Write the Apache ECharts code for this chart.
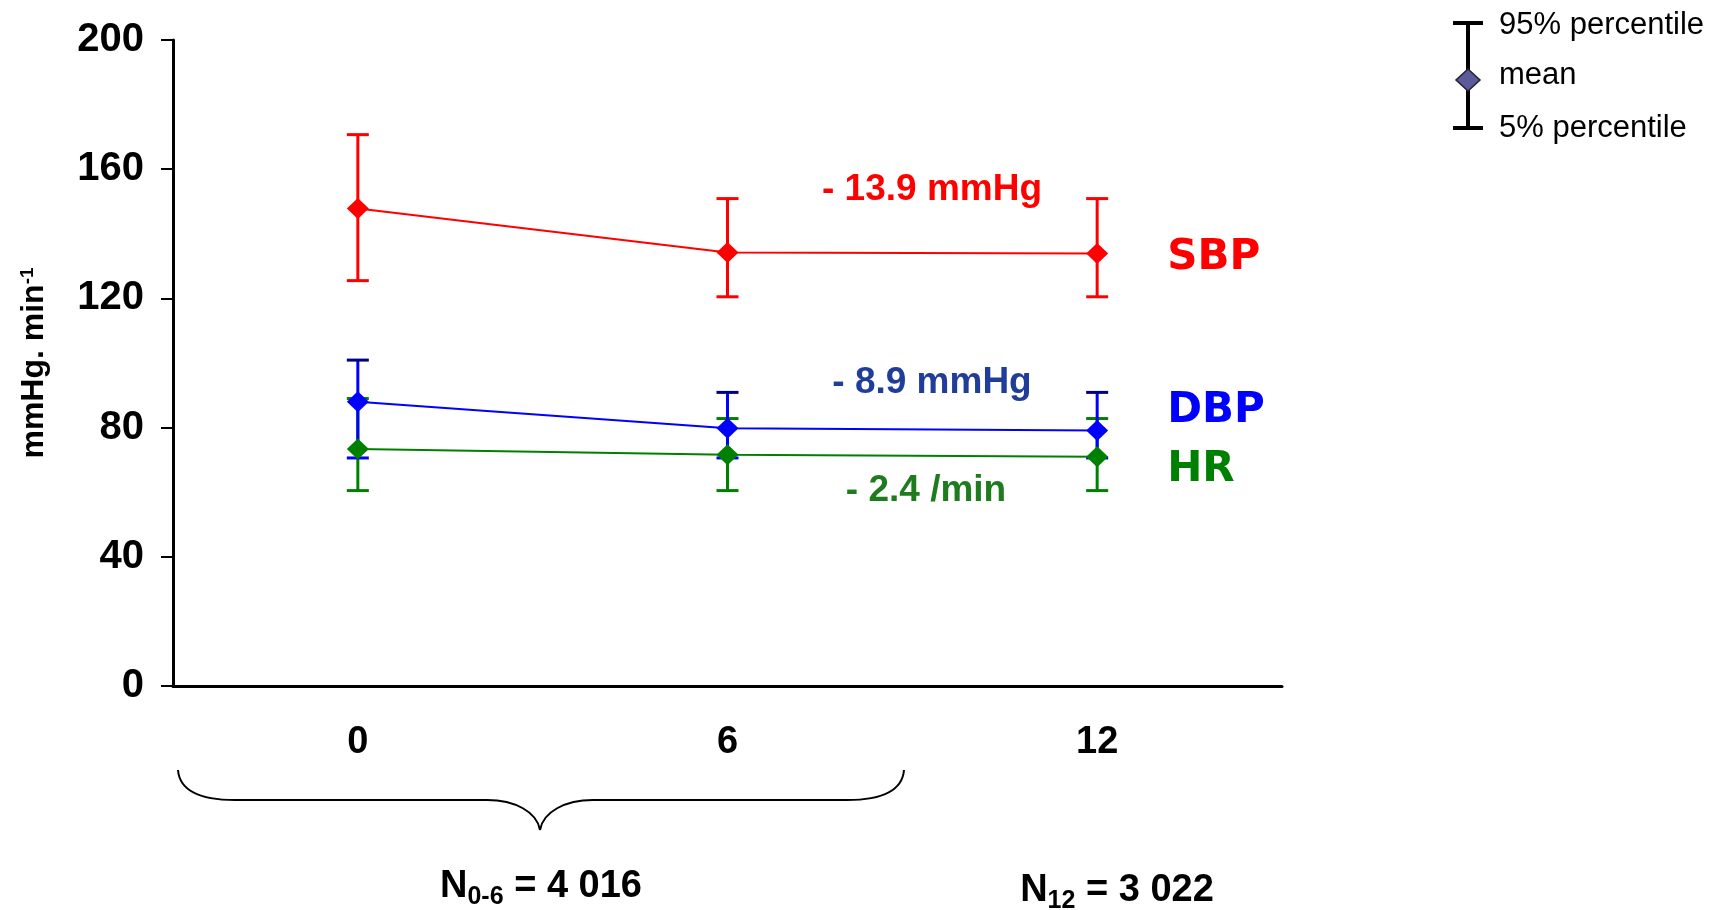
<!DOCTYPE html>
<html>
<head>
<meta charset="utf-8">
<script src="https://cdn.jsdelivr.net/npm/echarts@6/dist/echarts.min.js"></script>
<style>
html,body{margin:0;padding:0;background:#fff;}
#main{width:1729px;height:910px;}
</style>
</head>
<body>
<div id="main"></div>
<script>
// months since start
const months = ['0', '6', '12'];
// SBP mean, 5% and 95% percentile
const sbpMean = [147.8, 134.2, 133.9];
const sbpP5 = [125.5, 120.5, 120.5];
const sbpP95 = [170.7, 150.9, 150.9];
// DBP
const dbpMean = [88.0, 79.8, 79.1];
const dbpP5 = [70.6, 70.6, 70.6];
const dbpP95 = [100.9, 90.9, 90.9];
// HR
const hrMean = [73.4, 71.6, 71.0];
const hrP5 = [60.5, 60.5, 60.5];
const hrP95 = [89.0, 82.8, 82.8];
const yTicks = [0, 40, 80, 120, 160, 200];

const FONT = '"Liberation Sans", Arial, sans-serif';
const HEAVY = '"DejaVu Sans", sans-serif';

//误差线
function barRenderer(color, topColor) {
    return function (params, api) {
        var lo = api.coord([api.value(0), api.value(1)]);
        var hi = api.coord([api.value(0), api.value(2)]);
        var w = 11;
        return {
            type: 'group',
            children: [
                {type: 'line', shape: {x1: lo[0], y1: lo[1], x2: hi[0], y2: hi[1]}, style: {stroke: color, lineWidth: 3}},
                {type: 'line', shape: {x1: lo[0] - w, y1: lo[1], x2: lo[0] + w, y2: lo[1]}, style: {stroke: color, lineWidth: 3}},
                {type: 'line', shape: {x1: hi[0] - w, y1: hi[1], x2: hi[0] + w, y2: hi[1]}, style: {stroke: topColor, lineWidth: 3}}
            ]
        };
    };
}

function barData(lo, hi) {
    return lo.map(function (v, i) { return [i, v, hi[i]]; });
}

function meanLine(name, data, color, offsetY) {
    return {
        name: name,
        type: 'line',
        data: data,
        symbol: 'diamond',
        symbolSize: [22, 21],
        itemStyle: {color: color},
        lineStyle: {color: color, width: 2},
        endLabel: {
            show: true,
            formatter: name,
            distance: 70,
            offset: [0, offsetY],
            color: color,
            fontFamily: HEAVY,
            fontWeight: 'bold',
            fontSize: 42
        },
        z: 3
    };
}

var braceStyle = {stroke: '#000', lineWidth: 2, fill: null};
var nRich = {
    n: {font: 'bold 38px ' + FONT, fill: '#000'},
    s: {font: 'bold 25px ' + FONT, fill: '#000', padding: [20, 0, 0, 0]}
};

var chart = echarts.init(document.getElementById('main'));
var option = {
    animation: false,
    grid: {left: 173, right: 447, top: 40, bottom: 224, outerBoundsMode: 'none', containLabel: false},
    xAxis: {
        type: 'category',
        data: months,
        boundaryGap: true,
        axisLine: {lineStyle: {color: '#000', width: 3}},
        axisTick: {length: 11, lineStyle: {color: '#000', width: 2}},
        axisLabel: {margin: 38, color: '#000', fontFamily: FONT, fontWeight: 'bold', fontSize: 38}
    },
    yAxis: {
        type: 'value',
        min: yTicks[0],
        max: yTicks[yTicks.length - 1],
        interval: 40,
        splitLine: {show: false},
        axisLine: {show: true, lineStyle: {color: '#000', width: 3}},
        axisTick: {show: true, length: 12, lineStyle: {color: '#000', width: 2}},
        axisLabel: {margin: 29, color: '#000', fontFamily: FONT, fontWeight: 'bold', fontSize: 40},
        name: '{a|mmHg. min}{b|-1}',
        nameLocation: 'middle',
        nameRotate: 90,
        nameGap: 123,
        nameTextStyle: {
            rich: {
                a: {fontFamily: FONT, fontWeight: 'bold', fontSize: 32, color: '#000'},
                b: {fontFamily: FONT, fontWeight: 'bold', fontSize: 19, color: '#000', verticalAlign: 'top', padding: [0, 0, 12, 0]}
            }
        }
    },
    series: [
        {type: 'custom', renderItem: barRenderer('#008000', '#008000'), data: barData(hrP5, hrP95), z: 2},
        meanLine('HR', hrMean, '#008000', 13),
        {type: 'custom', renderItem: barRenderer('#0000ff', '#000080'), data: barData(dbpP5, dbpP95), z: 2},
        meanLine('DBP', dbpMean, '#0000ff', -19),
        {type: 'custom', renderItem: barRenderer('#ff0000', '#ff0000'), data: barData(sbpP5, sbpP95), z: 2},
        meanLine('SBP', sbpMean, '#ff0000', 5)
    ],
    graphic: [
        //差值标注
        {type: 'text', x: 932, y: 190, style: {text: '- 13.9 mmHg', fill: '#ff0000', font: 'bold 37px ' + FONT, align: 'center', verticalAlign: 'middle'}},
        {type: 'text', x: 932, y: 383, style: {text: '- 8.9 mmHg', fill: '#1f3d99', font: 'bold 37px ' + FONT, align: 'center', verticalAlign: 'middle'}},
        {type: 'text', x: 926, y: 491, style: {text: '- 2.4 /min', fill: '#1e7b1e', font: 'bold 37px ' + FONT, align: 'center', verticalAlign: 'middle'}},
        //大括号
        {type: 'bezierCurve', shape: {x1: 178, y1: 770, cpx1: 180, cpy1: 795, cpx2: 210, cpy2: 800, x2: 235, y2: 800}, style: braceStyle},
        {type: 'line', shape: {x1: 235, y1: 800, x2: 487, y2: 800}, style: braceStyle},
        {type: 'bezierCurve', shape: {x1: 487, y1: 800, cpx1: 515, cpy1: 800, cpx2: 537, cpy2: 812, x2: 540, y2: 830}, style: braceStyle},
        {type: 'bezierCurve', shape: {x1: 540, y1: 830, cpx1: 543, cpy1: 812, cpx2: 565, cpy2: 800, x2: 593, y2: 800}, style: braceStyle},
        {type: 'line', shape: {x1: 593, y1: 800, x2: 847, y2: 800}, style: braceStyle},
        {type: 'bezierCurve', shape: {x1: 847, y1: 800, cpx1: 872, cpy1: 800, cpx2: 902, cpy2: 795, x2: 904, y2: 770}, style: braceStyle},
        //样本数
        {type: 'text', x: 541, y: 887, style: {text: '{n|N}{s|0-6}{n| = 4 016}', align: 'center', verticalAlign: 'middle', rich: nRich}},
        {type: 'text', x: 1117, y: 891, style: {text: '{n|N}{s|12}{n| = 3 022}', align: 'center', verticalAlign: 'middle', rich: nRich}},
        //图例
        {type: 'line', shape: {x1: 1468, y1: 23, x2: 1468, y2: 128}, style: {stroke: '#000', lineWidth: 4}},
        {type: 'line', shape: {x1: 1453, y1: 23, x2: 1483, y2: 23}, style: {stroke: '#000', lineWidth: 4}},
        {type: 'line', shape: {x1: 1453, y1: 128, x2: 1483, y2: 128}, style: {stroke: '#000', lineWidth: 4}},
        {type: 'polygon', shape: {points: [[1468, 69], [1480, 80], [1468, 91], [1456, 80]]}, style: {fill: '#5b5b9b', stroke: '#222', lineWidth: 1.5}},
        {type: 'text', x: 1499, y: 25, style: {text: '95% percentile', fill: '#000', font: '31px ' + FONT, verticalAlign: 'middle'}},
        {type: 'text', x: 1499, y: 75, style: {text: 'mean', fill: '#000', font: '31px ' + FONT, verticalAlign: 'middle'}},
        {type: 'text', x: 1499, y: 128, style: {text: '5% percentile', fill: '#000', font: '31px ' + FONT, verticalAlign: 'middle'}}
    ]
};
chart.setOption(option);
</script>
</body>
</html>
